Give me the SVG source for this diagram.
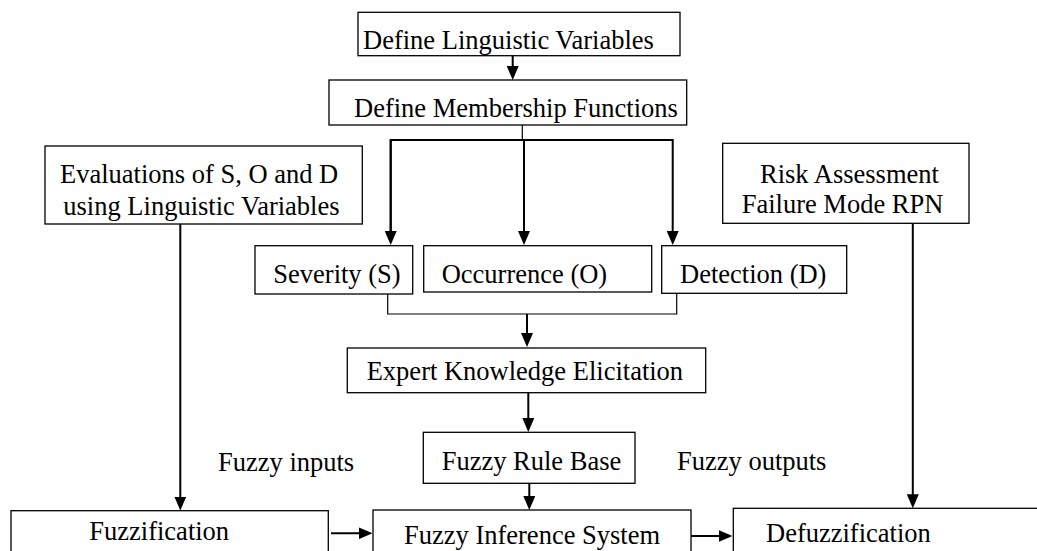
<svg xmlns="http://www.w3.org/2000/svg" width="1037" height="551" viewBox="0 0 1037 551">
<defs>
<style>
.box{fill:#fff;stroke:#000;stroke-width:1.3}
.t{font-family:"Liberation Serif","Times New Roman",serif;font-size:26.5px;fill:#000}
.c{stroke:#000;stroke-width:2;fill:none}
.thin{stroke:#000;stroke-width:1.2;fill:none}
</style>
<marker id="ah" markerUnits="userSpaceOnUse" markerWidth="14" markerHeight="12" refX="6" refY="6" orient="auto">
<path d="M0,0 L14,6 L0,12 z" fill="#000"/>
</marker>
</defs>
<rect width="1037" height="551" fill="#fff"/>

<g id="connectors">
<line class="c" x1="512.7" y1="55.7" x2="512.7" y2="72" marker-end="url(#ah)"/>
<line class="thin" x1="522.3" y1="125" x2="522.3" y2="140"/>
<polyline class="c" points="390.7,237 390.7,140 672.7,140 672.7,237" marker-end="url(#ah)"/>
<line class="c" x1="390.7" y1="140" x2="390.7" y2="237" marker-end="url(#ah)"/>
<line class="c" x1="524" y1="140" x2="524" y2="237" marker-end="url(#ah)"/>
<polyline class="thin" points="387.7,294 387.7,314 676.7,314 676.7,293"/>
<line class="c" x1="527" y1="314" x2="527" y2="339" marker-end="url(#ah)"/>
<line class="c" x1="528.3" y1="393" x2="528.3" y2="424" marker-end="url(#ah)"/>
<line class="c" x1="529.3" y1="483.3" x2="529.3" y2="502" marker-end="url(#ah)"/>
<line class="c" x1="180.3" y1="224" x2="180.3" y2="502.5" marker-end="url(#ah)"/>
<line class="c" x1="912.8" y1="223.3" x2="912.8" y2="500.3" marker-end="url(#ah)"/>
<line class="c" x1="331" y1="533.3" x2="364.5" y2="533.3" marker-end="url(#ah)"/>
<line class="c" x1="691" y1="536" x2="724.5" y2="536" marker-end="url(#ah)"/>
</g>

<g id="n-define-linguistic">
<rect class="box" x="358" y="12.3" width="322" height="43.4"/>
<text class="t" x="363" y="48.5">Define Linguistic Variables</text>
</g>
<g id="n-membership">
<rect class="box" x="329" y="80" width="357.7" height="45"/>
<text class="t" x="354" y="117">Define Membership Functions</text>
</g>
<g id="n-evaluations">
<rect class="box" x="45" y="146" width="317.3" height="78"/>
<text class="t" x="60" y="183.3">Evaluations of S, O and D</text>
<text class="t" x="63.3" y="215">using Linguistic Variables</text>
</g>
<g id="n-risk">
<rect class="box" x="722.7" y="143.3" width="246.3" height="80"/>
<text class="t" x="760" y="183.3">Risk Assessment</text>
<text class="t" x="741.7" y="213.3">Failure Mode RPN</text>
</g>
<g id="n-severity">
<rect class="box" x="255" y="245.7" width="157.7" height="48.3"/>
<text class="t" x="273.3" y="283.3">Severity (S)</text>
</g>
<g id="n-occurrence">
<rect class="box" x="423.7" y="245.7" width="228" height="46.3"/>
<text class="t" x="441.7" y="283.3">Occurrence (O)</text>
</g>
<g id="n-detection">
<rect class="box" x="661.7" y="245.7" width="185" height="47.6"/>
<text class="t" x="680" y="283.3">Detection (D)</text>
</g>
<g id="n-expert">
<rect class="box" x="347.3" y="348" width="358.4" height="44.7"/>
<text class="t" x="366.7" y="380">Expert Knowledge Elicitation</text>
</g>
<g id="n-rulebase">
<rect class="box" x="423.3" y="432.3" width="211.7" height="51"/>
<text class="t" x="441.7" y="470">Fuzzy Rule Base</text>
</g>
<g id="l-inputs">
<text class="t" x="218" y="470.7">Fuzzy inputs</text>
</g>
<g id="l-outputs">
<text class="t" x="677" y="469.5">Fuzzy outputs</text>
</g>
<g id="n-fuzzification">
<rect class="box" x="11" y="510.7" width="317.3" height="60"/>
<text class="t" x="89.3" y="540">Fuzzification</text>
</g>
<g id="n-fis">
<rect class="box" x="373" y="510" width="318" height="60"/>
<text class="t" x="404" y="544">Fuzzy Inference System</text>
</g>
<g id="n-defuzzification">
<rect class="box" x="733.3" y="508.3" width="320" height="60"/>
<text class="t" x="766" y="542">Defuzzification</text>
</g>
</svg>
